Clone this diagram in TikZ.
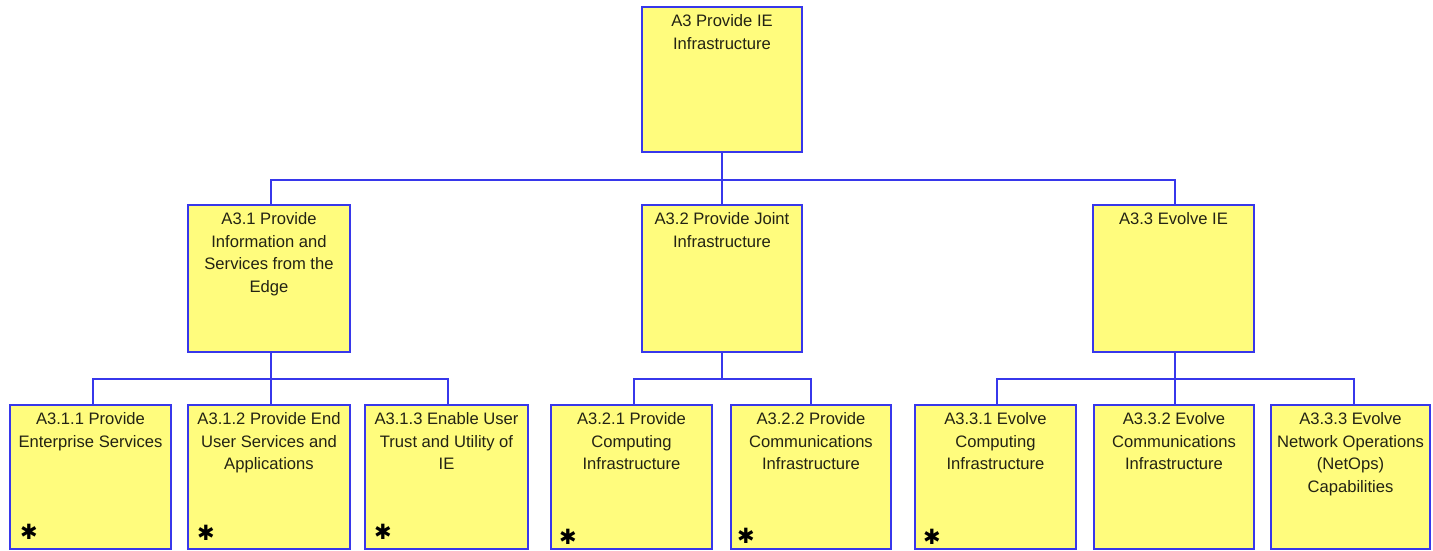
\documentclass[tikz,border=0pt]{standalone}
\usepackage{fontspec}
\setmainfont{Liberation Sans}
\newfontfamily\symfont{DejaVu Sans}
\definecolor{lineblue}{RGB}{55,55,235}
\definecolor{boxfill}{RGB}{255,252,125}
\definecolor{txt}{RGB}{35,35,20}
\begin{document}
\begin{tikzpicture}[x=1pt,y=-1pt,
  box/.style={draw=lineblue,line width=2pt,fill=boxfill,minimum width=161pt,minimum height=144pt,inner sep=0pt,outer sep=0pt},
  midbox/.style={box,minimum height=147pt},
  lbl/.style={anchor=north,align=center,inner sep=0pt,text=txt,font=\fontsize{16.6}{22.5}\selectfont,yshift=-7.5pt},
  star/.style={inner sep=0pt,text=black,font=\symfont\bfseries\fontsize{21}{21}\selectfont},
  conn/.style={draw=lineblue,line width=2pt}]
\useasboundingbox (0,0) rectangle (1433,550);
% top
\node[box,minimum width=160pt,minimum height=145pt] (a3) at (722,79.5) {};
% middle
\node[midbox,minimum width=162pt] (a31) at (269,278.5) {};
\node[midbox,minimum width=160pt] (a32) at (722,278.5) {};
\node[midbox] (a33) at (1173.5,278.5) {};
% bottom
\node[box] (b1) at (90.5,477) {};
\node[box,minimum width=162pt] (b2) at (269,477) {};
\node[box,minimum width=163pt] (b3) at (446.5,477) {};
\node[box] (b4) at (631.5,477) {};
\node[box,minimum width=160pt] (b5) at (811,477) {};
\node[box] (b6) at (995.5,477) {};
\node[box,minimum width=160pt] (b7) at (1174,477) {};
\node[box,minimum width=159pt] (b8) at (1350.5,477) {};
% labels
\node[lbl] (t3) at (a3.north) {A3 Provide IE\\Infrastructure};
\node[lbl] (t31) at (a31.north) {A3.1 Provide\\Information and\\Services from the\\Edge};
\node[lbl] (t32) at (a32.north) {A3.2 Provide Joint\\Infrastructure};
\node[lbl] (t33) at (a33.north) {A3.3 Evolve IE};
\node[lbl] (tb1) at (b1.north) {A3.1.1 Provide\\Enterprise Services};
\node[lbl] (tb2) at (b2.north) {A3.1.2 Provide End\\User Services and\\Applications};
\node[lbl] (tb3) at (b3.north) {A3.1.3 Enable User\\Trust and Utility of\\IE};
\node[lbl] (tb4) at (b4.north) {A3.2.1 Provide\\Computing\\Infrastructure};
\node[lbl] (tb5) at (b5.north) {A3.2.2 Provide\\Communications\\Infrastructure};
\node[lbl] (tb6) at (b6.north) {A3.3.1 Evolve\\Computing\\Infrastructure};
\node[lbl] (tb7) at (b7.north) {A3.3.2 Evolve\\Communications\\Infrastructure};
\node[lbl] (tb8) at (b8.north) {A3.3.3 Evolve\\Network Operations\\(NetOps)\\Capabilities};
% asterisks
\node[star] (s1) at (29,532) {✱};
\node[star] (s2) at (206,533) {✱};
\node[star] (s3) at (383,532) {✱};
\node[star] (s4) at (568,537) {✱};
\node[star] (s5) at (746,536) {✱};
\node[star] (s6) at (932,537) {✱};
% junctions
\coordinate (j0) at (722,180);
\coordinate (j1) at (271,379);
\coordinate (j2) at (722,379);
\coordinate (j3) at (1175,379);
% connectors
\draw[conn] (a3.south) -- (j0);
\draw[conn] ([xshift=1.5pt]a31.north) |- (j0) -| ([xshift=1.5pt]a33.north);
\draw[conn] (j0) -- (a32.north);
\draw[conn] ([xshift=2pt]a31.south) -- (j1);
\draw[conn] ([xshift=2.5pt]b1.north) |- (j1) -| ([xshift=1.5pt]b3.north);
\draw[conn] (j1) -- ([xshift=2pt]b2.north);
\draw[conn] (a32.south) -- (j2);
\draw[conn] ([xshift=2.5pt]b4.north) |- (j2) -| (b5.north);
\draw[conn] ([xshift=1.5pt]a33.south) -- (j3);
\draw[conn] ([xshift=1.5pt]b6.north) |- (j3) -| ([xshift=3.5pt]b8.north);
\draw[conn] (j3) -- ([xshift=1pt]b7.north);
\end{tikzpicture}
\end{document}
